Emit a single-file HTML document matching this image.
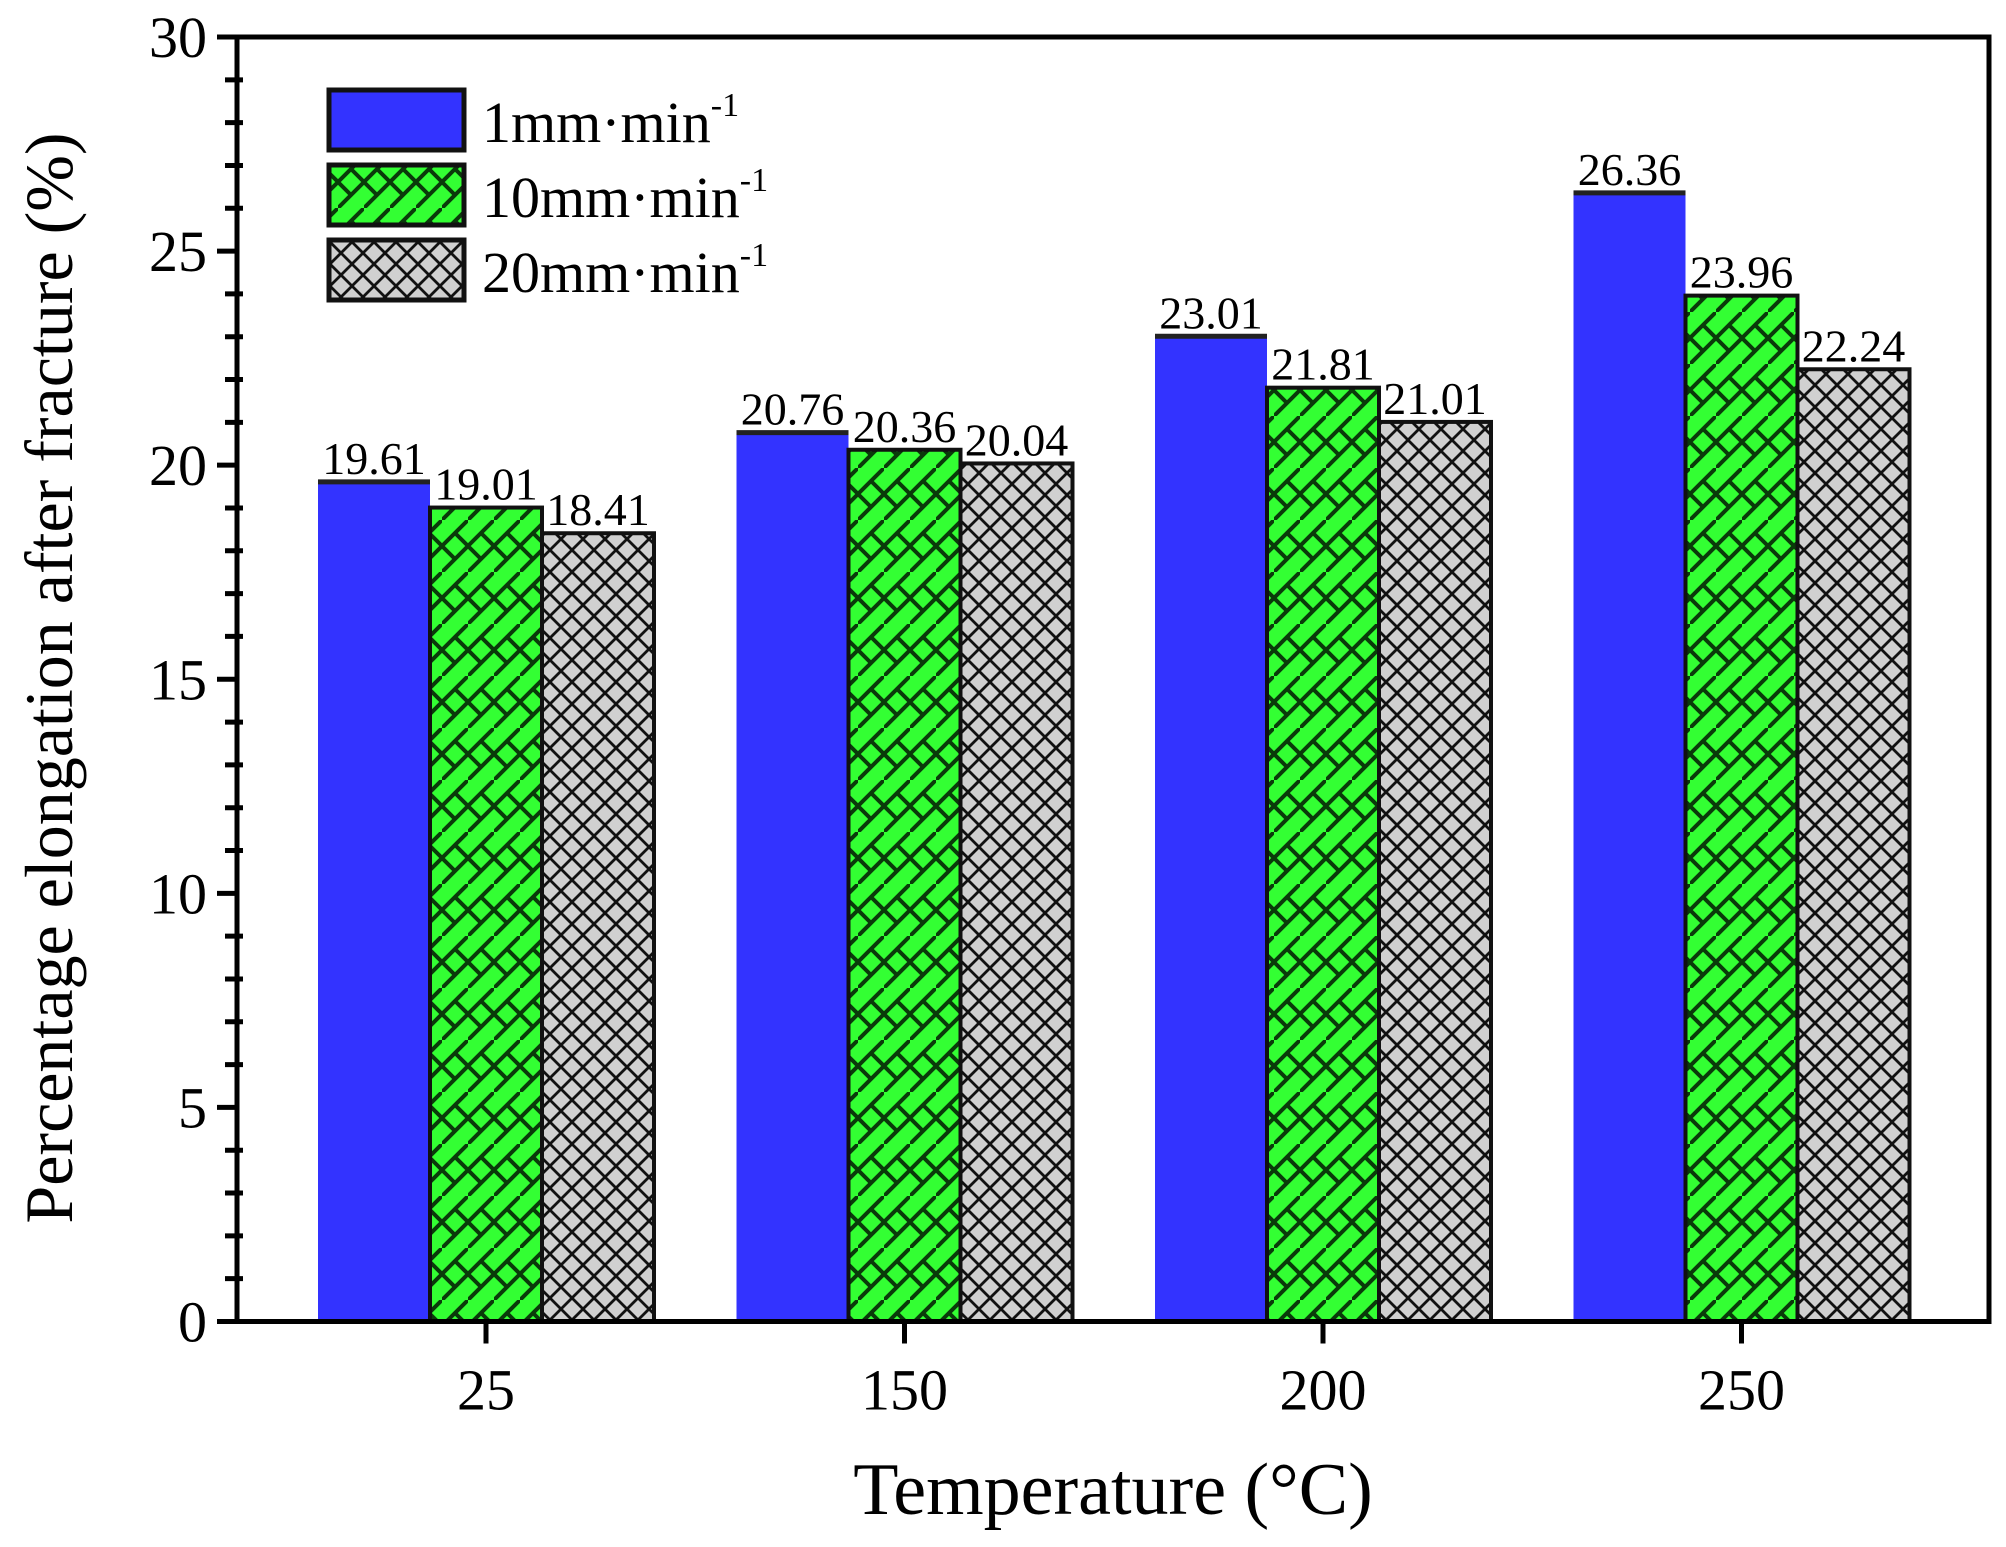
<!DOCTYPE html>
<html><head><meta charset="utf-8"><style>
html,body{margin:0;padding:0;background:#fff;}
svg text{font-family:"Liberation Serif",serif;fill:#000;}
</style></head><body>
<svg id="chart" width="2006" height="1542" xmlns="http://www.w3.org/2000/svg">
<defs>
<pattern id="pgreen" patternUnits="userSpaceOnUse" width="26" height="52">
<rect width="26" height="52" fill="#33ff33"/>
<path d="M0,52 L26,26 M0,26 L26,0 M13,39 L0,26 M26,26 L13,13" stroke="#0a3a0a" stroke-width="4" fill="none"/>
</pattern>
<pattern id="pgray" patternUnits="userSpaceOnUse" width="22" height="22">
<rect width="22" height="22" fill="#d0d0d0"/>
<path d="M0,0 L22,22 M22,0 L0,22" stroke="#111" stroke-width="2.8" fill="none"/>
</pattern>
</defs>
<g id="bars"></g>
<g id="axes"></g>
</svg>
<script>
const categories = ["25","150","200","250"];
const seriesNames = ["1mm·min","10mm·min","20mm·min"];
const s1 = [19.61,20.76,23.01,26.36];
const s2 = [19.01,20.36,21.81,23.96];
const s3 = [18.41,20.04,21.01,22.24];
const yTicks = [0,5,10,15,20,25,30];

const NS="http://www.w3.org/2000/svg";
const L=237,R=1989,T=37,B=1321.5;
const yMax=30;
function y(v){return B-(v/yMax)*(B-T);}
const step=418.5, first=486;
function xc(i){return first+i*step;}
const bw=112;
const fills=["#3333ff","url(#pgreen)","url(#pgray)"];
const series=[s1,s2,s3];
const bars=document.getElementById('bars');
const axes=document.getElementById('axes');
function mk(tag,attrs,parent){const e=document.createElementNS(NS,tag);for(const k in attrs)e.setAttribute(k,attrs[k]);parent.appendChild(e);return e;}

series.forEach((arr,si)=>{
  arr.forEach((v,i)=>{
    const x0=xc(i)-1.5*bw+si*bw;
    const r=mk('rect',{x:x0,y:y(v),width:bw,height:B-y(v),fill:fills[si],stroke:si===0?'none':'#111','stroke-width':4},bars);
    
    
    if(si===0){const ln=mk('line',{x1:x0,x2:x0+bw,y1:y(v),y2:y(v),stroke:'#222','stroke-width':5},bars);
      
      }
    const t=mk('text',{x:x0+bw/2,y:y(v)-8,'text-anchor':'middle','font-size':46},bars);
    t.textContent=v.toFixed(2);
    
    
  });
});

const fr=mk('rect',{x:L,y:T,width:R-L,height:B-T,fill:'none',stroke:'#000','stroke-width':5},axes);


for(let v=0;v<=30;v++){
  const major=v%5===0;
  const tk=mk('line',{x1:major?L-20:L-12,x2:L+(major?0:6),y1:y(v),y2:y(v),stroke:'#000','stroke-width':5},axes);
  
  
}
yTicks.forEach(v=>{
  const t=mk('text',{x:L-30,y:y(v)+20,'text-anchor':'end','font-size':58},axes);
  t.textContent=v;
  
  
});
categories.forEach((c,i)=>{
  const tk=mk('line',{x1:xc(i),x2:xc(i),y1:B,y2:B+22,stroke:'#000','stroke-width':5},axes);
  
  
  const t=mk('text',{x:xc(i),y:B+88,'text-anchor':'middle','font-size':58},axes);
  t.textContent=c;
  
  
});
const xt=mk('text',{x:1113,y:1514,'text-anchor':'middle','font-size':74},axes);
xt.textContent='Temperature (°C)';


const yt=mk('text',{x:0,y:0,'text-anchor':'middle','font-size':68,transform:'translate(72,678) rotate(-90)'},axes);
yt.textContent='Percentage elongation after fracture (%)';



const ly=[90,165,240];
seriesNames.forEach((n,si)=>{
  const r=mk('rect',{x:329,y:ly[si],width:135,height:60,fill:fills[si],stroke:'#111','stroke-width':5},axes);
  
  
  const t=mk('text',{x:482,y:ly[si]+52,'font-size':58},axes);
  
  
  t.textContent=n;
  const sup=mk('tspan',{'font-size':34,dy:-26},t);
  sup.textContent='-1';
});
</script>
</body></html>
